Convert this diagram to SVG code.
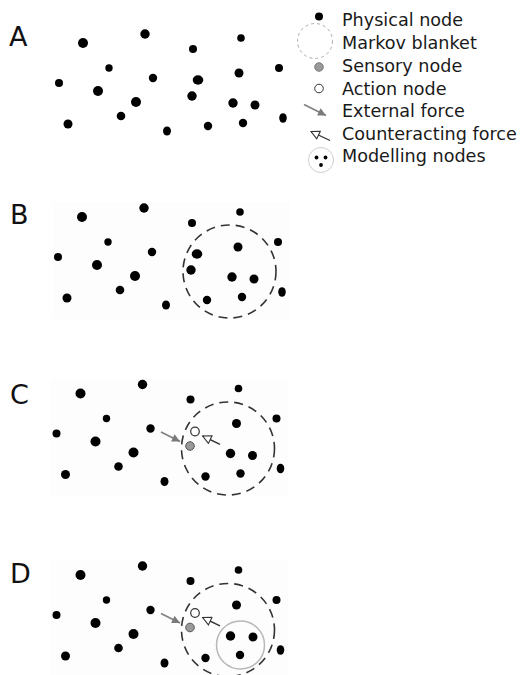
<svg xmlns="http://www.w3.org/2000/svg" width="522" height="675" viewBox="0 0 522 675">
<style>
  .lbl { font-family: "DejaVu Sans", "Liberation Sans", sans-serif; font-size: 27px; fill: #111; }
  .leg { font-family: "DejaVu Sans", "Liberation Sans", sans-serif; font-size: 17.6px; fill: #1a1a1a; }
  .phys { fill: #000; }
  .sens { fill: #9a9a9a; stroke: #555; stroke-width: 1; }
  .act { fill: #fff; stroke: #333; stroke-width: 1.2; }
  .blanket { fill: none; stroke: #333; stroke-width: 1.6; stroke-dasharray: 9 6; }
  .model { fill: none; stroke: #b8b8b8; stroke-width: 1.5; }
  .ext { stroke: #808080; stroke-width: 1.6; fill: none; }
  .cnt { stroke: #333; stroke-width: 1.4; fill: none; }
  .bg { fill: #fdfdfd; }
</style>
<defs>
  <marker id="headExt" viewBox="0 0 10 10" refX="10" refY="5" markerUnits="userSpaceOnUse" markerWidth="9" markerHeight="8" orient="auto">
    <path d="M0,0 L10,5 L0,10 z" fill="#7a7a7a"/>
  </marker>
  <marker id="headCnt" viewBox="-1 -1 12 12" refX="10" refY="5" markerUnits="userSpaceOnUse" markerWidth="11" markerHeight="10" orient="auto">
    <path d="M0,0 L10,5 L0,10 z" fill="#fff" stroke="#333" stroke-width="1.3"/>
  </marker>
  <g id="commonDots">
    <circle class="phys" cx="83" cy="43" r="5"/>
    <circle class="phys" cx="145" cy="34" r="4.7"/>
    <circle class="phys" cx="193" cy="49" r="4"/>
    <circle class="phys" cx="241" cy="38" r="3.8"/>
    <circle class="phys" cx="109" cy="68" r="3.7"/>
    <circle class="phys" cx="59" cy="83" r="4"/>
    <circle class="phys" cx="98" cy="91" r="5"/>
    <circle class="phys" cx="153" cy="78" r="4.2"/>
    <circle class="phys" cx="239" cy="73" r="4.5"/>
    <circle class="phys" cx="279" cy="68" r="4"/>
    <circle class="phys" cx="136" cy="102" r="5"/>
    <circle class="phys" cx="68" cy="124" r="4.5"/>
    <circle class="phys" cx="121" cy="116" r="4.3"/>
    <ellipse class="phys" cx="167" cy="131" rx="4" ry="4.5"/>
    <circle class="phys" cx="208" cy="126" r="4.2"/>
    <ellipse class="phys" cx="283" cy="118" rx="3.8" ry="4.8"/>
  </g>
</defs>

<!-- Panel A -->
<g id="panelA">
  <text class="lbl" x="9" y="46">A</text>
  <use href="#commonDots"/>
  <ellipse id="A-n198" class="phys" cx="198" cy="80" rx="5.3" ry="4.7"/>
  <circle id="A-n192" class="phys" cx="192" cy="96" r="4.7"/>
  <circle id="A-n233" class="phys" cx="233" cy="103" r="4.7"/>
  <circle id="A-n255" class="phys" cx="255" cy="105" r="4.5"/>
  <circle id="A-n243" class="phys" cx="243" cy="123" r="4.2"/>
</g>

<!-- Panel B -->
<text class="lbl" x="10" y="224">B</text>
<g id="panelB" transform="translate(-1,174)">
  <rect class="bg" x="54" y="28" width="237" height="117"/>
  <use href="#commonDots"/>
  <ellipse id="B-n198" class="phys" cx="198" cy="80" rx="5.3" ry="4.7"/>
  <circle id="B-n192" class="phys" cx="192" cy="96" r="4.7"/>
  <circle id="B-n233" class="phys" cx="233" cy="103" r="4.7"/>
  <circle id="B-n255" class="phys" cx="255" cy="105" r="4.5"/>
  <circle id="B-n243" class="phys" cx="243" cy="123" r="4.2"/>
  <circle id="B-blanket" class="blanket" cx="230.5" cy="97.5" r="46.5"/>
</g>

<!-- Panel C -->
<text class="lbl" x="10" y="404">C</text>
<g id="panelC" transform="translate(-2.5,350.5)">
  <rect class="bg" x="53" y="29" width="238" height="117"/>
  <use href="#commonDots"/>
  <circle id="C-n233" class="phys" cx="233" cy="103" r="4.7"/>
  <circle id="C-n255" class="phys" cx="255" cy="105" r="4.5"/>
  <circle id="C-n243" class="phys" cx="243" cy="123" r="4.2"/>
  <circle id="C-blanket" class="blanket" cx="230.5" cy="98" r="46.5"/>
  <g id="C-connectors">
    <line class="ext" x1="163.5" y1="81.5" x2="182.5" y2="91" marker-end="url(#headExt)"/>
    <line class="cnt" x1="222.5" y1="93.8" x2="205.2" y2="85.5" marker-end="url(#headCnt)"/>
  </g>
  <circle id="C-action" class="act" cx="197.5" cy="81" r="4.3"/>
  <circle id="C-sensory" class="sens" cx="192.5" cy="95.5" r="4.3"/>
</g>

<!-- Panel D -->
<text class="lbl" x="10" y="583">D</text>
<g id="panelD" transform="translate(-2.5,532)">
  <rect class="bg" x="53" y="29" width="238" height="117"/>
  <use href="#commonDots"/>
  <circle id="D-blanket" class="blanket" cx="230.5" cy="98" r="46.5"/>
  <circle id="D-modelling" class="model" cx="243" cy="113" r="24"/>
  <circle id="D-m1" class="phys" cx="233" cy="104" r="4.7"/>
  <circle id="D-m2" class="phys" cx="255.5" cy="105" r="4.5"/>
  <circle id="D-m3" class="phys" cx="242.5" cy="123" r="4.2"/>
  <g id="D-connectors">
    <line class="ext" x1="163.5" y1="81.5" x2="182.5" y2="91" marker-end="url(#headExt)"/>
    <line class="cnt" x1="222.5" y1="93.8" x2="205.2" y2="85.5" marker-end="url(#headCnt)"/>
  </g>
  <circle id="D-action" class="act" cx="197.5" cy="81" r="4.3"/>
  <circle id="D-sensory" class="sens" cx="192.5" cy="95.5" r="4.3"/>
</g>

<!-- Legend -->
<g id="legend">
  <circle class="phys" cx="319" cy="16.5" r="4"/>
  <text class="leg" x="342" y="26">Physical node</text>
  <circle cx="315" cy="41" r="17.5" fill="none" stroke="#aaa" stroke-width="1" stroke-dasharray="3 3"/>
  <text class="leg" x="342" y="49">Markov blanket</text>
  <circle cx="319" cy="67" r="4.3" fill="#9a9a9a" stroke="#666" stroke-width="0.8"/>
  <text class="leg" x="342" y="72">Sensory node</text>
  <circle cx="319" cy="88.5" r="4.3" fill="#fff" stroke="#333" stroke-width="1"/>
  <text class="leg" x="342" y="94.5">Action node</text>
  <line x1="304" y1="104.5" x2="326" y2="115.5" stroke="#808080" stroke-width="1.6" marker-end="url(#headExt)"/>
  <text class="leg" x="342" y="117">External force</text>
  <line x1="330" y1="140.5" x2="311" y2="131.5" stroke="#333" stroke-width="1.3" marker-end="url(#headCnt)"/>
  <text class="leg" x="342" y="139.5">Counteracting force</text>
  <circle cx="321" cy="160" r="12.5" fill="none" stroke="#cfcfcf" stroke-width="1"/>
  <circle class="phys" cx="316.5" cy="157.5" r="1.9"/>
  <circle class="phys" cx="325.5" cy="157.5" r="1.9"/>
  <circle class="phys" cx="321" cy="165" r="1.9"/>
  <text class="leg" x="342" y="162">Modelling nodes</text>
</g>
</svg>
